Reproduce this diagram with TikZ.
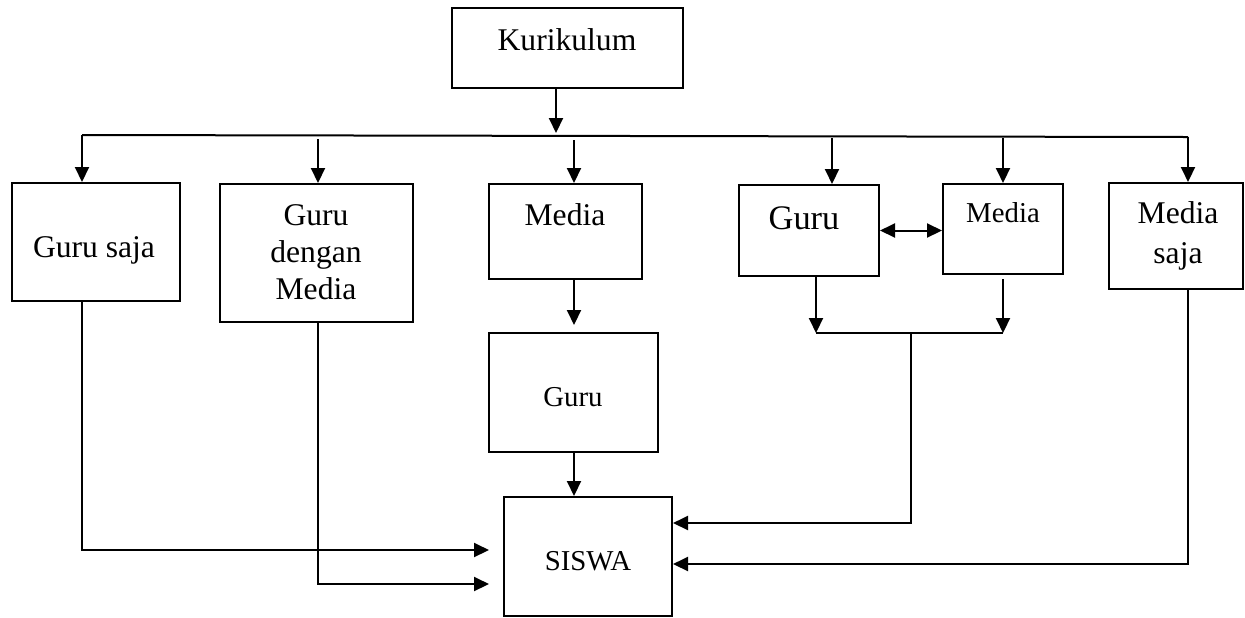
\documentclass[tikz,border=0pt]{standalone}
\usepackage{fontspec}
\setmainfont{Liberation Serif}
\usetikzlibrary{arrows.meta,fit}
\begin{document}
\begin{tikzpicture}[x=0.5pt,y=-0.5pt,
  box/.style={draw,line width=1pt,inner sep=0pt},
  lbl/.style={inner sep=0pt,align=center,font=\fontsize{15.8}{18.5}\selectfont},
  lblW/.style={inner sep=0pt,align=center,font=\fontsize{15.8}{20}\selectfont},
  lblS/.style={inner sep=0pt,align=center,font=\fontsize{14.4}{17}\selectfont},
  lblL/.style={inner sep=0pt,align=center,font=\fontsize{17.2}{20}\selectfont},
  ln/.style={line width=1pt},
  arr/.style={line width=1pt,-{Triangle[length=7.5pt,width=7pt]}},
  darr/.style={line width=1pt,{Triangle[length=7.5pt,width=7pt]}-{Triangle[length=7.5pt,width=7pt]}}]
\useasboundingbox (0,0) rectangle (1245,617);
% boxes
\node[box,fit={(452,8) (683,88)}] (kur) {};
\node[box,fit={(12,183) (180,301)}] (gs) {};
\node[box,fit={(220,184) (413,322)}] (gdm) {};
\node[box,fit={(489,184) (642,279)}] (med) {};
\node[box,fit={(489,333) (658,452)}] (gl) {};
\node[box,fit={(504,497) (672,616)}] (sis) {};
\node[box,fit={(739,185) (879,276)}] (rg) {};
\node[box,fit={(943,184) (1063,274)}] (rm) {};
\node[box,fit={(1109,183) (1243,289)}] (ms) {};
% texts
\node[lbl] (kurT) at (567,40) {Kurikulum};
\node[lbl] (gsT) at (94,250) {Guru saja};
\node[lbl] (gdmT) at (316,252) {Guru\\dengan\\Media};
\node[lbl] (medT) at (565,215) {Media};
\node[lblS] (glT) at (573,397) {Guru};
\node[lblS] (sisT) at (588,561) {SISWA};
\node[lblL] (rgT) at (804,218) {Guru};
\node[lblS] (rmT) at (1003,213) {Media};
\node[lblW] (msT) at (1178,236) {Media\\saja};
% bus
\coordinate (busL) at (82,135);
\coordinate (busR) at (1188,137);
\coordinate (k1) at (556,0);
\draw[arr] (k1 |- kur.south) -- (556,133);
\draw[ln] (busL) -- (busR);
\draw[arr] (busL) -- (busL |- gs.north);
\coordinate (b2) at (318,139);
\draw[arr] (b2) -- (b2 |- gdm.north);
\coordinate (b3) at (574,140);
\draw[arr] (b3) -- (b3 |- med.north);
\coordinate (b4) at (832,138);
\draw[arr] (b4) -- (b4 |- rg.north);
\coordinate (b5) at (1003,138);
\draw[arr] (b5) -- (b5 |- rm.north);
\draw[arr] (busR) -- (busR |- ms.north);
% middle column
\coordinate (m1) at (574,325);
\draw[arr] (m1 |- med.south) -- (m1);
\draw[arr] (m1 |- gl.south) -- (m1 |- sis.north);
% right group
\draw[darr] (rg.east) -- (rg.east -| rm.west);
\coordinate (j1) at (816,333);
\coordinate (j2) at (1003,333);
\coordinate (j3) at (1003,279);
\coordinate (jm) at (911,333);
\coordinate (jd) at (911,523);
\draw[arr] (j1 |- rg.south) -- (j1);
\draw[arr] (j3) -- (j2);
\draw[ln] (j1) -- (j2);
\draw[arr] (jm) -- (jd) -- (jd -| sis.east);
% media saja
\coordinate (ms1) at (1188,564);
\draw[arr] (busR |- ms.south) -- (ms1) -- (ms1 -| sis.east);
% left
\coordinate (l1) at (82,550);
\coordinate (l1e) at (489,550);
\draw[arr] (l1 |- gs.south) -- (l1) -- (l1e);
\coordinate (l2) at (318,584);
\coordinate (l2e) at (489,584);
\draw[arr] (l2 |- gdm.south) -- (l2) -- (l2e);
\end{tikzpicture}
\end{document}
